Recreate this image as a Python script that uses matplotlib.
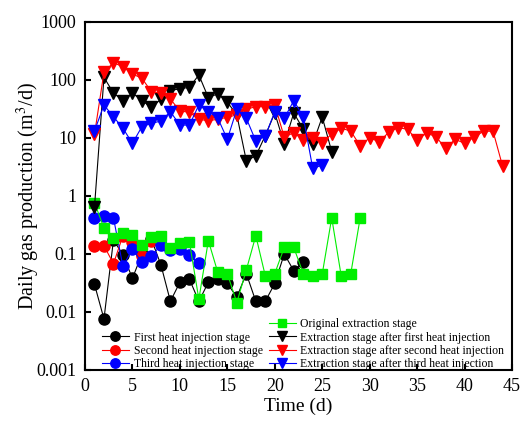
import numpy as np
import matplotlib.pyplot as plt
from matplotlib.lines import Line2D
from matplotlib.ticker import FixedLocator, NullLocator

plt.rcParams['font.family'] = ['Liberation Serif', 'DejaVu Serif']
plt.rcParams['mathtext.fontset'] = 'stix'

# Heat injection stages (circles)
first_heat = [0.030, 0.0076, 0.174, 0.097, 0.038, 0.100, 0.179, 0.065, 0.0153, 0.0325,
              0.037, 0.0153, 0.0325, 0.037, 0.031, 0.018, 0.046, 0.0153, 0.0153, 0.031,
              0.100, 0.0515, 0.073]
second_heat = [0.139, 0.139, 0.068, 0.207, 0.159, 0.092, 0.170]
third_heat = [0.41, 0.46, 0.42, 0.061, 0.123, 0.072, 0.091, 0.143, 0.119, 0.123, 0.095, 0.069]

# Extraction stages
original = [0.77, 0.28, 0.187, 0.23, 0.21, 0.145, 0.20, 0.204, 0.127, 0.153, 0.163, 0.0166,
            0.17, 0.048, 0.046, 0.0145, 0.053, 0.207, 0.042, 0.046, 0.13, 0.13, 0.046,
            0.042, 0.045, 0.42, 0.042, 0.045, 0.42]
after_first = [0.64, 111, 59.7, 44, 59.7, 44, 33.8, 46.4, 65.5, 70.8, 74.8, 122, 49.6, 58,
               41.5, 25, 4.07, 4.9, 11, 27, 7.9, 27, 14.2, 7.9, 23, 5.8]
after_second = [11.5, 136, 199, 169, 127, 107, 62.9, 59, 47, 29.2, 27.8, 21, 19.9, 21, 22.8,
                25, 31.3, 34.7, 34.7, 37.5, 10.3, 12.4, 9.2, 9.9, 8.3, 11.7, 14.7, 13.2, 7.3,
                10.1, 8.6, 12.5, 15.1, 14.1, 9.2, 12.2, 10.5, 6.6, 9.5, 8.1, 10.3, 13.1, 13.1, 3.3]
after_third = [13.2, 37, 23.3, 14.7, 8.1, 15.7, 17.9, 19.6, 28.4, 16.7, 16.7, 37, 28.4, 21.9,
               9.5, 31.3, 21.9, 8.9, 10.8, 28.4, 21.9, 44, 23.3, 3.0, 3.4]

y_ticks = [0.001, 0.01, 0.1, 1, 10, 100, 1000]
y_labels = ['0.001', '0.01', '0.1', '1', '10', '100', '1000']


def days(series):
    return np.arange(1, len(series) + 1)


fig = plt.figure(figsize=(5.23, 4.23), dpi=100)
ax = fig.add_axes([0.1625, 0.1253, 0.8165, 0.8227])

lw = 0.8
h1, = ax.plot(days(first_heat), first_heat, '-o', color='black', lw=lw, ms=8)
h2, = ax.plot(days(second_heat), second_heat, '-o', color='red', lw=lw, ms=8)
h3, = ax.plot(days(third_heat), third_heat, '-o', color='blue', lw=lw, ms=8)
h4, = ax.plot(days(original), original, '-s', color='#00ee00', lw=lw, ms=6.5)
h5, = ax.plot(days(after_first), after_first, '-v', color='black', lw=lw, ms=8)
h6, = ax.plot(days(after_second), after_second, '-v', color='red', lw=lw, ms=8)
h7, = ax.plot(days(after_third), after_third, '-v', color='blue', lw=lw, ms=8)

ax.set_yscale('log')
ax.set_xlim(0, 45)
ax.set_ylim(0.001, 1000)
ax.set_xticks(np.arange(0, 46, 5))
ax.yaxis.set_major_locator(FixedLocator(y_ticks))
ax.set_yticklabels(y_labels)
ax.yaxis.set_minor_locator(NullLocator())
ax.tick_params(direction='in', length=4, width=1.5, labelsize=13)
ax.tick_params(axis='x', pad=6)
ax.tick_params(axis='y', pad=6)
for s in ax.spines.values():
    s.set_linewidth(1.5)

ax.set_xlabel('Time (d)', fontsize=14, labelpad=2)
ax.set_ylabel('Daily gas production (m$^3$/d)', fontsize=14.5, labelpad=-4)

blank = Line2D([], [], linestyle='none', marker='none')
handles = [blank, h1, h2, h3, h4, h5, h6, h7]
labels = ['', 'First heat injection stage', 'Second heat injection stage',
          'Third heat injection stage', 'Original extraction stage',
          'Extraction stage after first heat injection',
          'Extraction stage after second heat injection',
          'Extraction stage after third heat injection']
ax.legend(handles, labels, ncol=2, loc='lower left', bbox_to_anchor=(0.02, -0.025),
          frameon=False, fontsize=8.5, labelspacing=0.12, handlelength=2.3,
          handletextpad=0.4, columnspacing=0.5, borderpad=0.2, markerscale=0.85)

plt.savefig('out.png', dpi=100)
